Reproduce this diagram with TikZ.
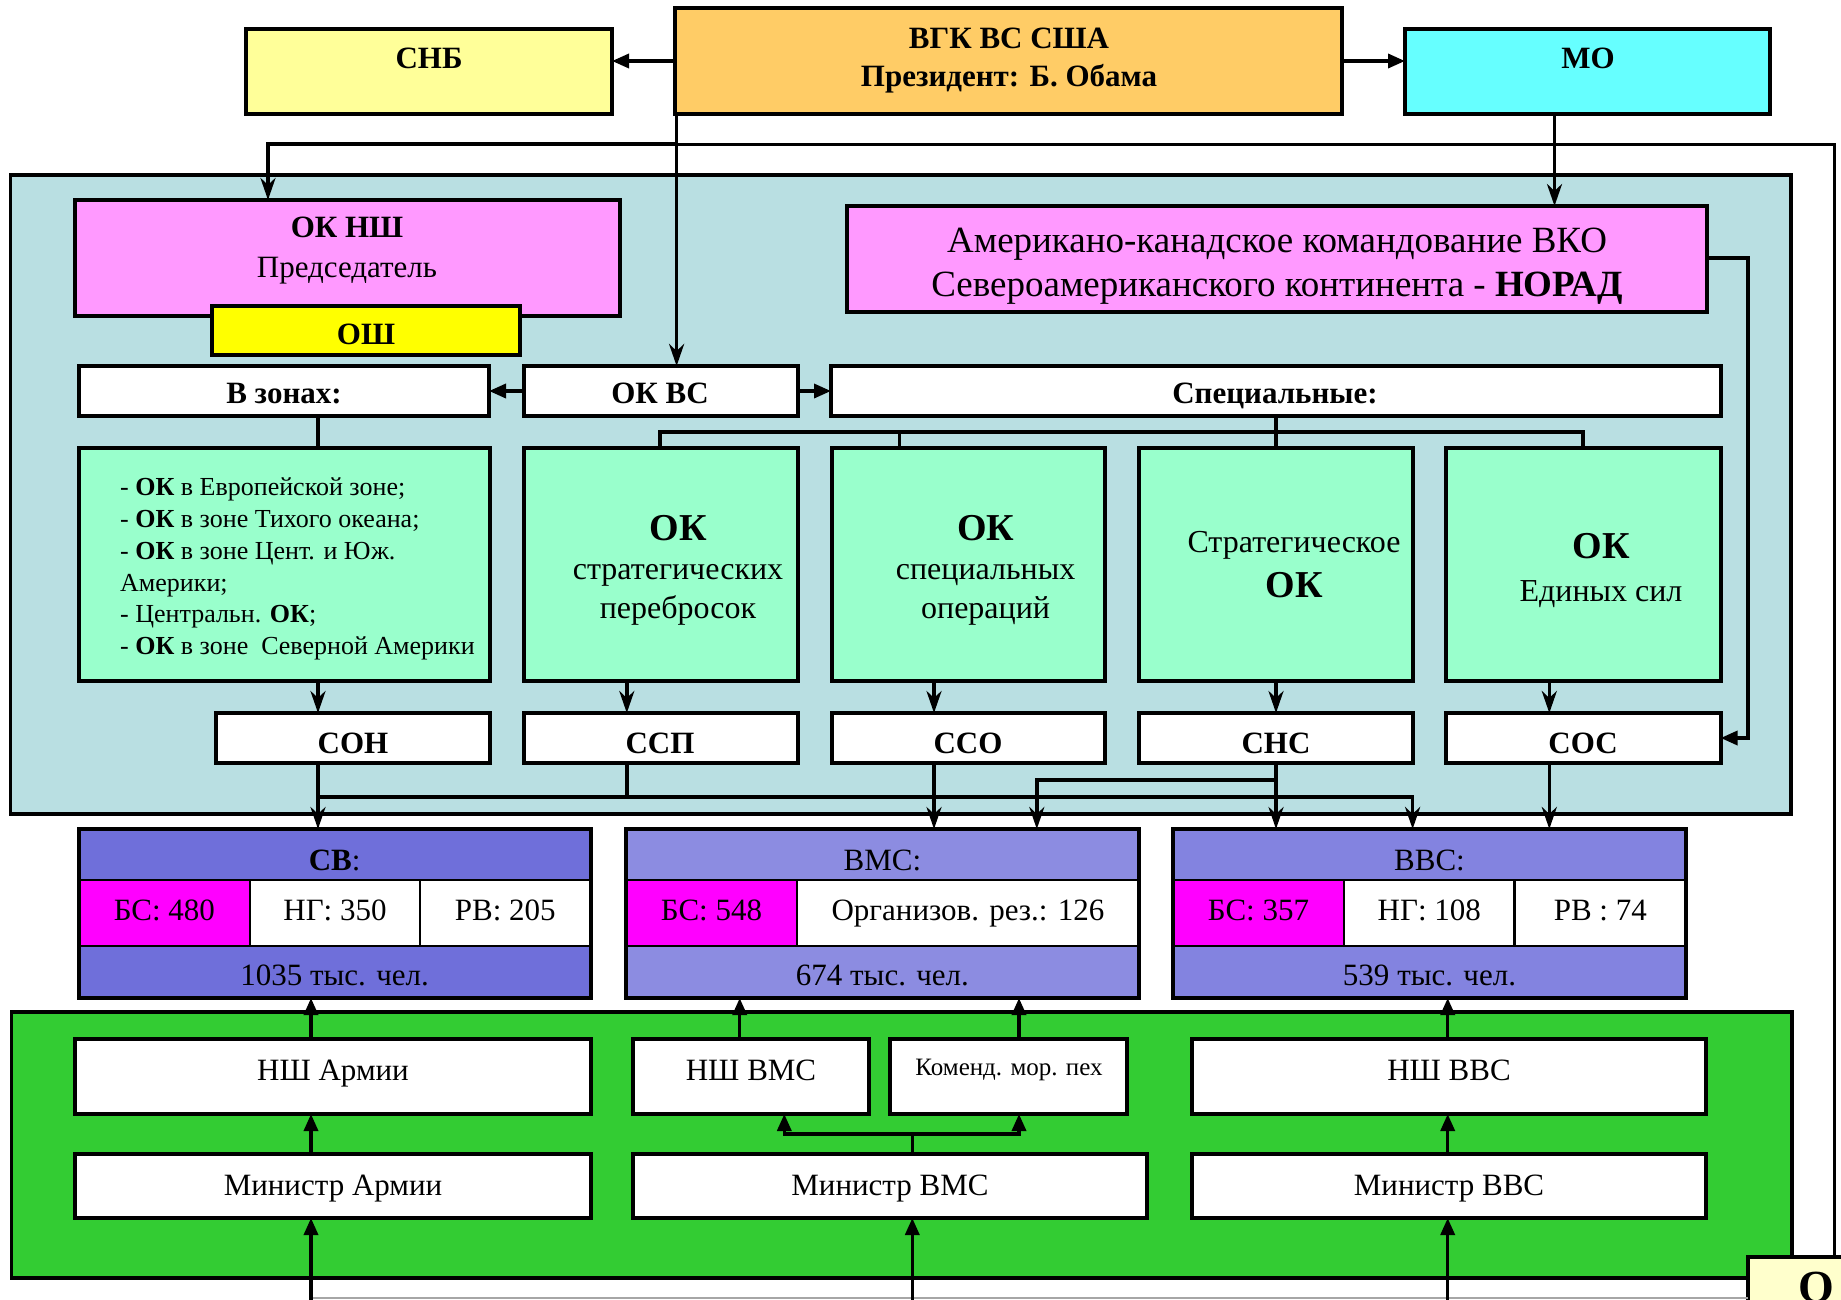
\documentclass[tikz,border=0pt]{standalone}
\usepackage{fontspec}
\setmainfont{Liberation Serif}
\usetikzlibrary{arrows.meta}
\definecolor{cSNB}{HTML}{FFFF99}
\definecolor{cVGK}{HTML}{FFCC66}
\definecolor{cMO}{HTML}{66FFFF}
\definecolor{cReg}{HTML}{B9DFE2}
\definecolor{cPink}{HTML}{FF99FF}
\definecolor{cYel}{HTML}{FFFF00}
\definecolor{cMint}{HTML}{99FFCC}
\definecolor{cSV}{HTML}{6F6FDA}
\definecolor{cVMS}{HTML}{8C8CE1}
\definecolor{cVVS}{HTML}{8383E0}
\definecolor{cMag}{HTML}{FF00FF}
\definecolor{cGreen}{HTML}{33CC33}
\definecolor{cQ}{HTML}{FFFFCC}
\newcommand\mkbox[7]{\node[#1,minimum width={(#5)-(#3)},minimum height={(#6)-(#4)}] (#2) at ({((#3)+(#5))/2},{((#4)+(#6))/2}) {#7};}
\newcommand\fs[1]{\fontsize{#1}{#1}\selectfont}
\tikzset{
 bx/.style={draw, line width=4pt, inner sep=0pt, outer sep=0pt, rectangle},
 cell/.style={draw, line width=2.5pt, inner sep=0pt, outer sep=0pt, rectangle},
 region/.style={draw, line width=3.5pt, inner sep=0pt, outer sep=0pt, rectangle},
 tx/.style={inner sep=0pt, anchor=base},
 hb/.style={tx, font=\bfseries\fs{31}},
 hr/.style={tx, font=\fs{31}},
 ln/.style={line width=3.5pt},
 arr/.style={line width=3.5pt, -{Triangle[length=17pt,width=14pt]}},
 arrs/.style={line width=3.5pt, -{Stealth[length=22pt,width=15pt,inset=7pt]}},
}
\begin{document}
\begin{tikzpicture}[x=1pt,y=-1pt,line join=miter]
\useasboundingbox (0,0) rectangle (1841,1299);
\clip (0,0) rectangle (1841,1299);
% regions
\mkbox{region,fill=cReg}{blue}{10.5}{175}{1791}{814}{}
\mkbox{region,fill=cGreen}{green}{11.7}{1012}{1792}{1278}{}
% top
\mkbox{bx,fill=cSNB}{snb}{246}{29}{612}{114}{}
\mkbox{bx,fill=cVGK}{vgk}{675}{8}{1342}{114}{}
\mkbox{bx,fill=cMO}{mo}{1405}{29}{1770}{114}{}
\node[hb] (snbT) at (429,68) {СНБ};
\node[hb] (vgkT1) at (1009,48) {ВГК ВС США};
\node[hb] (vgkT2) at (1009,86) {Президент: Б. Обама};
\node[hb] (moT) at (1588,68) {МО};
% commands
\mkbox{bx,fill=cPink}{oknsh}{75}{200}{620}{316}{}
\mkbox{bx,fill=cYel}{osh}{212}{306}{520}{355}{}
\node[hb] (okT1) at (347,237) {ОК НШ};
\node[hr] (okT2) at (347,277) {Председатель};
\node[hb] (oshT) at (366,344) {ОШ};
\mkbox{bx,fill=cPink}{norad}{847}{206}{1707}{312}{}
\node[tx,font=\fs{37}] (noT1) at (1277,252) {Американо-канадское командование ВКО};
\node[tx,font=\fs{37}] (noT2) at (1277,296) {Североамериканского континента - \textbf{НОРАД}};
\mkbox{bx,fill=white}{vzon}{79}{366}{489}{416}{}
\mkbox{bx,fill=white}{okvs}{523.5}{366}{798}{416}{}
\mkbox{bx,fill=white}{spec}{831}{366}{1721}{416}{}
\node[hb] (vzT) at (284,403) {В зонах:};
\node[hb] (okvsT) at (660,403) {ОК ВС};
\node[hb] (specT) at (1275,403) {Специальные:};
% green boxes
\mkbox{bx,fill=cMint}{g1}{79}{448}{490}{680.5}{}
\mkbox{bx,fill=cMint}{g2}{523.5}{448}{798}{680.5}{}
\mkbox{bx,fill=cMint}{g3}{831.7}{448}{1104.6}{680.5}{}
\mkbox{bx,fill=cMint}{g4}{1139}{448}{1412.6}{680.5}{}
\mkbox{bx,fill=cMint}{g5}{1446.4}{448}{1720.6}{680.5}{}
\tikzset{gl/.style={inner sep=0pt, anchor=base west, font=\fs{26}}}
\node[gl] (g1a) at (120,495) {- \textbf{ОК} в Европейской зоне;};
\node[gl] (g1b) at (120,527) {- \textbf{ОК} в зоне Тихого океана;};
\node[gl] (g1c) at (120,559) {- \textbf{ОК} в зоне Цент. и Юж.};
\node[gl] (g1d) at (120,591) {Америки;};
\node[gl] (g1e) at (120,622) {- Центральн. \textbf{ОК};};
\node[gl] (g1f) at (120,654) {- \textbf{ОК} в зоне\ \ Северной Америки};
\tikzset{okb/.style={tx, font=\bfseries\fs{38}}, gr/.style={tx, font=\fs{32}}}
\node[okb] (g2a) at (678,540) {ОК};
\node[gr] (g2b) at (678,579) {стратегических};
\node[gr] (g2c) at (678,618) {перебросок};
\node[okb] (g3a) at (985.6,540) {ОК};
\node[gr] (g3b) at (985.6,579) {специальных};
\node[gr] (g3c) at (985.6,618) {операций};
\node[gr] (g4a) at (1294,552) {Стратегическое};
\node[okb] (g4b) at (1294,597) {ОК};
\node[okb] (g5a) at (1601,558) {ОК};
\node[gr] (g5b) at (1601,601) {Единых сил};
% force boxes
\mkbox{bx,fill=white}{son}{216}{713}{490}{763}{}
\mkbox{bx,fill=white}{ssp}{523.5}{713}{798}{763}{}
\mkbox{bx,fill=white}{sso}{831.7}{713}{1104.6}{763}{}
\mkbox{bx,fill=white}{sns}{1139}{713}{1412.6}{763}{}
\mkbox{bx,fill=white}{sos}{1446.4}{713}{1720.6}{763}{}
\node[hb] (sonT) at (353,753) {СОН};
\node[hb] (sspT) at (660,753) {ССП};
\node[hb] (ssoT) at (968,753) {ССО};
\node[hb] (snsT) at (1276,753) {СНС};
\node[hb] (sosT) at (1583,753) {СОС};
% services
\mkbox{cell,fill=cSV}{svH}{78.7}{829}{590.6}{880}{}
\mkbox{cell,fill=cMag}{svA}{78.7}{880}{250}{946}{}
\mkbox{cell,fill=white}{svB}{250}{880}{420}{946}{}
\mkbox{cell,fill=white}{svC}{420}{880}{590.6}{946}{}
\mkbox{cell,fill=cSV}{svT}{78.7}{946}{590.6}{998}{}
\mkbox{bx}{sv}{78.7}{829}{590.6}{998}{}
\mkbox{cell,fill=cVMS}{vmsH}{625.8}{829}{1139}{880}{}
\mkbox{cell,fill=cMag}{vmsA}{625.8}{880}{797.2}{946}{}
\mkbox{cell,fill=white}{vmsB}{797.2}{880}{1139}{946}{}
\mkbox{cell,fill=cVMS}{vmsT}{625.8}{946}{1139}{998}{}
\mkbox{bx}{vms}{625.8}{829}{1139}{998}{}
\mkbox{cell,fill=cVVS}{vvsH}{1173}{829}{1686}{880}{}
\mkbox{cell,fill=cMag}{vvsA}{1173}{880}{1344}{946}{}
\mkbox{cell,fill=white}{vvsB}{1344}{880}{1514.6}{946}{}
\mkbox{cell,fill=white}{vvsC}{1514.6}{880}{1686}{946}{}
\mkbox{cell,fill=cVVS}{vvsT}{1173}{946}{1686}{998}{}
\mkbox{bx}{vvs}{1173}{829}{1686}{998}{}
\node[hr] (svHT) at (334.6,870) {\textbf{СВ}:};
\node[hr] (vmsHT) at (882.4,870) {ВМС:};
\node[hr] (vvsHT) at (1429.5,870) {ВВС:};
\node[hr] (svAT) at (164.4,920) {БС: 480};
\node[hr] (svBT) at (335,920) {НГ: 350};
\node[hr] (svCT) at (505.3,920) {РВ: 205};
\node[hr] (svTT) at (334.6,985) {1035 тыс. чел.};
\node[hr] (vmsAT) at (711.5,920) {БС: 548};
\node[hr] (vmsBT) at (968,920) {Организов. рез.: 126};
\node[hr] (vmsTT) at (882.4,985) {674 тыс. чел.};
\node[hr] (vvsAT) at (1258.5,920) {БС: 357};
\node[hr] (vvsBT) at (1429.3,920) {НГ: 108};
\node[hr] (vvsCT) at (1600.3,920) {РВ : 74};
\node[hr] (vvsTT) at (1429.5,985) {539 тыс. чел.};
% green region boxes
\mkbox{bx,fill=white}{nsha}{75}{1039}{590.6}{1114}{}
\mkbox{bx,fill=white}{nshv}{633}{1039}{869}{1114}{}
\mkbox{bx,fill=white}{kmp}{890}{1039}{1127}{1114}{}
\mkbox{bx,fill=white}{nshvvs}{1191.7}{1039}{1706}{1114}{}
\mkbox{bx,fill=white}{mina}{75}{1154}{590.6}{1218}{}
\mkbox{bx,fill=white}{minv}{633}{1154}{1147}{1218}{}
\mkbox{bx,fill=white}{minvvs}{1191.7}{1154}{1706}{1218}{}
\node[hr] (nshaT) at (333,1080) {НШ Армии};
\node[hr] (nshvT) at (751,1080) {НШ ВМС};
\node[tx,font=\fs{25}] (kmpT) at (1009,1075) {Коменд. мор. пех};
\node[hr] (nshvvsT) at (1449,1080) {НШ ВВС};
\node[hr] (minaT) at (333,1195) {Министр Армии};
\node[hr] (minvT) at (890,1195) {Министр ВМС};
\node[hr] (minvvsT) at (1449,1195) {Министр ВВС};
% corner box
\mkbox{bx,fill=cQ}{qbox}{1748}{1257}{1880}{1340}{}
\node[tx,anchor=north,font=\bfseries\fs{46}] (qT) at (1816,1272) {Q};
% coordinates
\coordinate (cVS) at (676.6,144);
\coordinate (cL) at (268,144);
\coordinate (cR) at (1834,144);
\coordinate (cMO) at (1554.5,144);
\coordinate (nr1) at (1748,258);
\coordinate (nr2) at (1748,738);
\coordinate (br2) at (660,432);
\coordinate (br3) at (899.4,432);
\coordinate (br4) at (1276,432);
\coordinate (br5) at (1583,432);
\coordinate (v1) at (318,797);
\coordinate (v2) at (626.8,797);
\coordinate (v3) at (934,797);
\coordinate (v4) at (1276,797);
\coordinate (v5) at (1549.3,797);
\coordinate (vR) at (1412.6,797);
\coordinate (s1) at (1276,780);
\coordinate (s2) at (1036.8,780);
\coordinate (u1) at (311,1305);
\coordinate (u2) at (739.7,1305);
\coordinate (u3) at (1019,1305);
\coordinate (u4) at (1447.7,1305);
\coordinate (b2) at (912.3,1305);
\coordinate (m2) at (912.3,1134);
\coordinate (m2a) at (784.3,1134);
\coordinate (m2b) at (1019,1134);
\coordinate (gb1) at (311,1297.5);
\coordinate (gb2) at (1748,1297.5);
% connectors top
\draw[arr] (vgk.west) -- (snb.east |- vgk.west);
\draw[arr] (vgk.east) -- (mo.west |- vgk.east);
\draw[arrs] (vgk.south -| cVS) -- (okvs.north -| cVS);
\draw[arrs] (cVS) -- (cL) -- (oknsh.north -| cL);
\draw[line width=3pt] (cVS) -- (cR) -- (qbox.north -| cR);
\draw[arrs] (mo.south -| cMO) -- (norad.north -| cMO);
\draw[arr] (norad.east |- nr1) -- (nr1) -- (nr2) -- (sos.east |- nr2);
\draw[arr] (okvs.west) -- (vzon.east);
\draw[arr] (okvs.east) -- (spec.west);
\draw[ln] (vzon.south -| v1) -- (g1.north -| v1);
\draw[ln] (spec.south -| br4) -- (br4);
\draw[ln] (g2.north -| br2) -- (br2) -- (br5) -- (g5.north -| br5);
\draw[ln] (br3) -- (g3.north -| br3);
\draw[ln] (br4) -- (g4.north -| br4);
\draw[arrs] (g1.south -| v1) -- (son.north -| v1);
\draw[arrs] (g2.south -| v2) -- (ssp.north -| v2);
\draw[arrs] (g3.south -| v3) -- (sso.north -| v3);
\draw[arrs] (g4.south -| v4) -- (sns.north -| v4);
\draw[arrs] (g5.south -| v5) -- (sos.north -| v5);
\draw[arrs] (son.south -| v1) -- (sv.north -| v1);
\draw[ln] (ssp.south -| v2) -- (v2);
\draw[arrs] (v1) -- (vR) -- (vvs.north -| vR);
\draw[arrs] (sso.south -| v3) -- (vms.north -| v3);
\draw[arrs] (sns.south -| v4) -- (vvs.north -| v4);
\draw[arrs] (s1) -- (s2) -- (vms.north -| s2);
\draw[arrs] (sos.south -| v5) -- (vvs.north -| v5);
% connectors bottom
\draw[arr] (nsha.north -| u1) -- (sv.south -| u1);
\draw[arr] (nshv.north -| u2) -- (vms.south -| u2);
\draw[arr] (kmp.north -| u3) -- (vms.south -| u3);
\draw[arr] (nshvvs.north -| u4) -- (vvs.south -| u4);
\draw[arr] (mina.north -| u1) -- (nsha.south -| u1);
\draw[ln] (minv.north -| m2) -- (m2);
\draw[arr] (m2) -- (m2a) -- (nshv.south -| m2a);
\draw[arr] (m2) -- (m2b) -- (kmp.south -| m2b);
\draw[arr] (minvvs.north -| u4) -- (nshvvs.south -| u4);
\draw[line width=2pt,black!35] (gb1) -- (gb2);
\draw[arr] (u1) -- (mina.south -| u1);
\draw[arr] (b2) -- (minv.south -| b2);
\draw[arr] (u4) -- (minvvs.south -| u4);
\end{tikzpicture}
\end{document}
